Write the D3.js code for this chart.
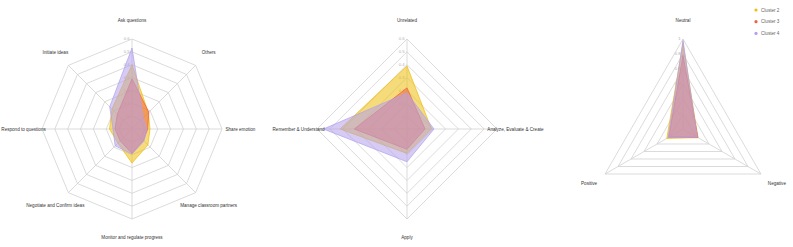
<!DOCTYPE html>
<html>
<head>
<meta charset="utf-8">
<script src="https://cdn.jsdelivr.net/npm/d3@7"></script>
<style>
  body { margin: 0; background: #fff; }
  text { font-family: "Liberation Sans", Arial, sans-serif; }
</style>
</head>
<body>
<script>
// series
const clusters = ["Cluster 2", "Cluster 3", "Cluster 4"];
const colors = ["#efbd0c", "#ee6244", "#b3a0ec"];

// chart 1 - behaviours
const behaviourAxes = ["Ask questions", "Others", "Share emotion", "Manage classroom partners",
  "Monitor and regulate progress", "Negotiate and Confirm ideas", "Respond to questions", "Initiate ideas"];
const behaviourC2 = [0.40, 0.08, 0.04, 0.075, 0.165, 0.055, 0.075, 0.12];
const behaviourC3 = [0.29, 0.085, 0.022, 0.025, 0.09, 0.03, 0.032, 0.062];
const behaviourC4 = [0.53, 0.022, 0.015, 0.032, 0.095, 0.085, 0.048, 0.145];
const behaviourTicks = [-0.1, 0, 0.1, 0.2, 0.3, 0.4, 0.5, 0.6];

// chart 2 - cognitive level
const cognitiveAxes = ["Unrelated", "Analyze, Evaluate & Create", "Apply", "Remember & Understand"];
const cognitiveC2 = [0.39, 0.09, 0.09, 0.42];
const cognitiveC3 = [0.22, 0.04, 0.058, 0.31];
const cognitiveC4 = [0.18, 0.11, 0.155, 0.55];
const cognitiveTicks = [-0.1, 0, 0.1, 0.2, 0.3, 0.4, 0.5, 0.6];

// chart 3 - emotion
const emotionAxes = ["Neutral", "Negative", "Positive"];
const emotionC2 = [0.94, 0.03, 0.05];
const emotionC3 = [0.78, 0.03, 0.02];
const emotionC4 = [0.98, 0.02, 0.03];
const emotionTicks = [-0.2, 0, 0.2, 0.4, 0.6, 0.8, 1];

const width = 793, height = 247
const R = 90, cy = 129

const svg = d3.select("body").append("svg")
              .attr("width", width)
              .attr("height", height)

const fmt = d3.format("~g")

function radar(cx, axes, series, ticks) {
  const g = svg.append("g").attr("transform", `translate(${cx},${cy})`)
  const r = d3.scaleLinear().domain(d3.extent(ticks)).range([0, R])
  const angle = d3.scaleLinear().domain([0, axes.length]).range([0, 2 * Math.PI])
  const pt = (i, rad) => [rad * Math.sin(angle(i)), -rad * Math.cos(angle(i))]
  const line = d3.line().curve(d3.curveLinearClosed)

  // grid rings
  g.selectAll(".ring")
   .data(ticks.slice(1))
   .enter()
   .append("path")
   .attr("class", "ring")
   .attr("d", t => line(axes.map((a, i) => pt(i, r(t)))))
   .attr("fill", "none")
   .attr("stroke", "#d2d2d2")
   .attr("stroke-width", 0.8)

  // spokes
  g.selectAll(".spoke")
   .data(axes)
   .enter()
   .append("line")
   .attr("x1", 0).attr("y1", 0)
   .attr("x2", (d, i) => pt(i, R)[0])
   .attr("y2", (d, i) => pt(i, R)[1])
   .attr("stroke", "#d2d2d2")
   .attr("stroke-width", 0.8)

  // tick labels
  g.selectAll(".tick")
   .data(ticks.slice(1))
   .enter()
   .append("text")
   .attr("x", -2.5)
   .attr("y", t => -r(t))
   .attr("dy", "0.35em")
   .attr("text-anchor", "end")
   .attr("font-size", 4.2)
   .attr("fill", "#b0b0b0")
   .text(t => fmt(t))

  // areas
  series.forEach((vals, k) => {
    g.append("path")
     .attr("d", line(vals.map((v, i) => pt(i, r(v)))))
     .attr("fill", colors[k])
     .attr("fill-opacity", 0.55)
     .attr("stroke", colors[k])
     .attr("stroke-opacity", 0.9)
     .attr("stroke-width", 0.8)
     .attr("stroke-linejoin", "round")
  })

  // axis names
  g.selectAll(".name")
   .data(axes)
   .enter()
   .append("text")
   .attr("x", (d, i) => pt(i, R * 1.205)[0])
   .attr("y", (d, i) => pt(i, R * 1.205)[1])
   .attr("dy", "0.35em")
   .attr("text-anchor", "middle")
   .attr("font-size", 4.6)
   .attr("fill", "#333")
   .text(d => d)
}

radar(132, behaviourAxes, [behaviourC2, behaviourC3, behaviourC4], behaviourTicks)
radar(407, cognitiveAxes, [cognitiveC2, cognitiveC3, cognitiveC4], cognitiveTicks)
radar(683, emotionAxes, [emotionC2, emotionC3, emotionC4], emotionTicks)

// legend
const legend = svg.append("g").attr("transform", "translate(756,10)")
const item = legend.selectAll("g")
                   .data(clusters)
                   .enter()
                   .append("g")
                   .attr("transform", (d, i) => `translate(0,${i * 11.7})`)
item.append("circle")
    .attr("r", 1.6)
    .attr("fill", (d, i) => colors[i])
item.append("text")
    .attr("x", 5)
    .attr("dy", "0.35em")
    .attr("font-size", 4.6)
    .attr("fill", "#666")
    .text(d => d)
</script>
</body>
</html>
